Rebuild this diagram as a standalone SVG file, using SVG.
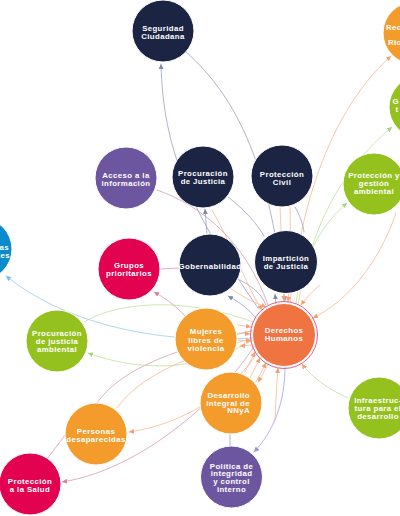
<svg xmlns="http://www.w3.org/2000/svg" width="400" height="516" viewBox="0 0 400 516">
<defs>
<style>
.n circle{stroke:#fff;stroke-width:1}
.n text{font-family:"Liberation Sans",Arial,sans-serif;font-weight:bold;font-size:7.8px;fill:#fff;text-anchor:middle;letter-spacing:0.4px}
.navy circle{fill:#1b2443}
.purple circle{fill:#6c56a0}
.crimson circle{fill:#e3024f}
.amber circle{fill:#f39c2c}
.green circle{fill:#95c11f}
.blue circle{fill:#0b8bcb}
.dh circle.core{fill:#ef7442}
.dh circle.ring{fill:none;stroke:#e94a80;stroke-width:0.9}
#connectors path{fill:none;stroke-width:0.8;stroke-linecap:round}
.or{stroke:#f8b895}
.mv{stroke:#d4a0ae}
.gr{stroke:#c1e0a0}
.gy{stroke:#9aa1bc}
.pu{stroke:#ada0d6}
.bl{stroke:#9dcce8}
</style>
<marker id="m-or" viewBox="0 0 8 8" refX="8" refY="4" markerWidth="5" markerHeight="5" markerUnits="userSpaceOnUse" orient="auto"><path d="M0,0L8,4L0,8z" fill="#f5a06f"/></marker>
<marker id="m-mv" viewBox="0 0 8 8" refX="8" refY="4" markerWidth="5" markerHeight="5" markerUnits="userSpaceOnUse" orient="auto"><path d="M0,0L8,4L0,8z" fill="#d0829a"/></marker>
<marker id="m-gr" viewBox="0 0 8 8" refX="8" refY="4" markerWidth="5" markerHeight="5" markerUnits="userSpaceOnUse" orient="auto"><path d="M0,0L8,4L0,8z" fill="#a8d47c"/></marker>
<marker id="m-gy" viewBox="0 0 8 8" refX="8" refY="4" markerWidth="5" markerHeight="5" markerUnits="userSpaceOnUse" orient="auto"><path d="M0,0L8,4L0,8z" fill="#7f88a8"/></marker>
<marker id="m-pu" viewBox="0 0 8 8" refX="8" refY="4" markerWidth="5" markerHeight="5" markerUnits="userSpaceOnUse" orient="auto"><path d="M0,0L8,4L0,8z" fill="#9d8ecf"/></marker>
<marker id="m-bl" viewBox="0 0 8 8" refX="8" refY="4" markerWidth="5" markerHeight="5" markerUnits="userSpaceOnUse" orient="auto"><path d="M0,0L8,4L0,8z" fill="#7dbbe2"/></marker>
</defs>
<rect width="400" height="516" fill="#fff"/>
<g id="connectors">
<path class="gy" d="M258,308 C190,210 163,150 161,64" marker-end="url(#m-gy)"/>
<path class="gy" d="M186,52 C240,100 270,170 285,301" marker-end="url(#m-gy)"/>
<path class="or" d="M290,303 C298,230 320,120 391,56" marker-end="url(#m-or)"/>
<path class="gr" d="M298,305 C310,230 340,170 392,127" marker-end="url(#m-gr)"/>
<path class="gr" d="M296,304 C300,270 315,230 347,203" marker-end="url(#m-gr)"/>
<path class="or" d="M396,213 C380,260 350,300 313,318" marker-end="url(#m-or)"/>
<path class="gr" d="M348,398 C330,390 312,378 302,364" marker-end="url(#m-or)"/>
<path class="pu" d="M285,367 C285,400 275,430 254,452" marker-end="url(#m-pu)"/>
<path class="gy" d="M230,434 L230,446"/>
<path class="or" d="M258,352 C230,395 180,425 129,432" marker-end="url(#m-or)"/>
<path class="mv" d="M255,345 C220,400 140,470 62,482" marker-end="url(#m-mv)"/>
<path class="mv" d="M65,435 C58,445 52,452 47,459"/>
<path class="mv" d="M97,403 C120,370 170,350 255,330"/>
<path class="or" d="M117,408 C140,375 190,355 254,338"/>
<path class="gr" d="M253,340 C200,372 140,372 88,353" marker-end="url(#m-gr)"/>
<path class="gr" d="M84,322 C120,300 190,298 253,322"/>
<path class="bl" d="M252,338 C150,345 60,320 6,276" marker-end="url(#m-bl)"/>
<path class="mv" d="M185,316 C175,305 165,298 154,292" marker-end="url(#m-mv)"/>
<path class="mv" d="M160,269 L179,268"/>
<path class="mv" d="M157,190 C200,205 245,240 268,305"/>
<path class="gy" d="M207,234 L205,209" marker-end="url(#m-gy)"/>
<path class="gy" d="M228,197 C245,210 258,225 264,236"/>
<path class="gy" d="M295,207 C300,215 303,225 304,232"/>
<path class="gy" d="M256,318 C245,305 235,300 228,296" marker-end="url(#m-gy)"/>
<path class="gy" d="M240,280 C255,288 262,295 266,305"/>
<path class="gy" d="M276,304 L275,294" marker-end="url(#m-gy)"/>
<path class="or" d="M252,345 L240,346" marker-end="url(#m-or)"/>
<path class="or" d="M268,364 C264,372 261,377 258,382" marker-end="url(#m-or)"/>
<path class="or" d="M280,205 L284,301" marker-end="url(#m-or)"/>
<path class="or" d="M290,207 C291,250 290,280 288,302" marker-end="url(#m-or)"/>
<path class="or" d="M212,210 C235,250 248,290 262,310" marker-end="url(#m-or)"/>
<path class="or" d="M225,285 C240,295 252,302 266,307" marker-end="url(#m-or)"/>
<path class="or" d="M238,325 L251,327" marker-end="url(#m-or)"/>
<path class="or" d="M238,333 L250,334" marker-end="url(#m-or)"/>
<path class="or" d="M238,340 L251,341" marker-end="url(#m-or)"/>
<path class="or" d="M245,372 L255,352" marker-end="url(#m-or)"/>
<path class="or" d="M250,378 L260,358" marker-end="url(#m-or)"/>
<path class="or" d="M256,382 L266,363" marker-end="url(#m-or)"/>
<path class="or" d="M275,420 C276,395 277,380 278,368" marker-end="url(#m-or)"/>
<path class="or" d="M320,285 C312,292 306,298 301,305" marker-end="url(#m-or)"/>
</g>
<g id="n-seg" class="n navy"><circle cx="163" cy="31" r="31"/><text x="163" y="30.5">Seguridad</text><text x="163" y="38.5">Ciudadana</text></g>
<g id="n-rec" class="n amber"><circle cx="414" cy="33" r="31"/><text x="386" y="30" style="text-anchor:start">Rec</text><text x="388" y="45" style="text-anchor:start">Rio</text></g>
<g id="n-gt" class="n green"><circle cx="420" cy="107" r="31"/><text x="392.5" y="104" style="text-anchor:start">G</text><text x="395.5" y="112" style="text-anchor:start">t</text></g>
<g id="n-pga" class="n green"><circle cx="374" cy="184" r="31"/><text x="374" y="177.5">Protección y</text><text x="374" y="185.5">gestión</text><text x="374" y="193.5">ambiental</text></g>
<g id="n-pc" class="n navy"><circle cx="282" cy="176" r="31"/><text x="282" y="177">Protección</text><text x="282" y="184.5">Civil</text></g>
<g id="n-pj" class="n navy"><circle cx="203" cy="177" r="31"/><text x="203" y="176">Procuración</text><text x="203" y="184">de Justicia</text></g>
<g id="n-acc" class="n purple"><circle cx="126" cy="178" r="31"/><text x="126" y="178">Acceso a la</text><text x="126" y="186">información</text></g>
<g id="n-gp" class="n crimson"><circle cx="129" cy="269" r="31"/><text x="129" y="268">Grupos</text><text x="129" y="275.5">prioritarios</text></g>
<g id="n-gob" class="n navy"><circle cx="210" cy="265" r="31"/><text x="210" y="268.5">Gobernabilidad</text></g>
<g id="n-imp" class="n navy"><circle cx="286" cy="262" r="31.5"/><text x="286" y="261">Impartición</text><text x="286" y="269">de Justicia</text></g>
<g id="n-dh" class="n dh"><circle class="ring" cx="284" cy="335" r="33.5"/><circle class="core" cx="284" cy="335" r="31.5"/><text x="284" y="333">Derechos</text><text x="284" y="341">Humanos</text></g>
<g id="n-muj" class="n amber"><circle cx="206" cy="339" r="31"/><text x="206" y="334">Mujeres</text><text x="206" y="342.5">libres de</text><text x="206" y="350.5">violencia</text></g>
<g id="n-pja" class="n green"><circle cx="57" cy="341" r="31"/><text x="57" y="336">Procuración</text><text x="57" y="344">de justicia</text><text x="57" y="351.5">ambiental</text></g>
<g id="n-blue" class="n blue"><circle cx="-19" cy="249" r="31"/><text x="9" y="249.5" style="text-anchor:end">as</text><text x="10" y="257.5" style="text-anchor:end">les</text></g>
<g id="n-pd" class="n amber"><circle cx="96" cy="434" r="31"/><text x="96" y="433.5">Personas</text><text x="96" y="441.5">desaparecidas</text></g>
<g id="n-ps" class="n crimson"><circle cx="30" cy="484" r="31"/><text x="30" y="483.5">Protección</text><text x="30" y="491.5">a la Salud</text></g>
<g id="n-nna" class="n amber"><circle cx="231" cy="403" r="31"/><text x="250" y="398" style="text-anchor:end">Desarrollo</text><text x="250" y="405.5" style="text-anchor:end">integral de</text><text x="250" y="413" style="text-anchor:end">NNyA</text></g>
<g id="n-pol" class="n purple"><circle cx="231.5" cy="477" r="31"/><text x="231.5" y="468.5">Política de</text><text x="231.5" y="476">integridad</text><text x="231.5" y="483.5">y control</text><text x="231.5" y="491.5">interno</text></g>
<g id="n-inf" class="n green"><circle cx="379" cy="408" r="31"/><text x="378" y="403">Infraestruc-</text><text x="378" y="411">tura para el</text><text x="378" y="418.5">desarrollo</text></g>
</svg>
